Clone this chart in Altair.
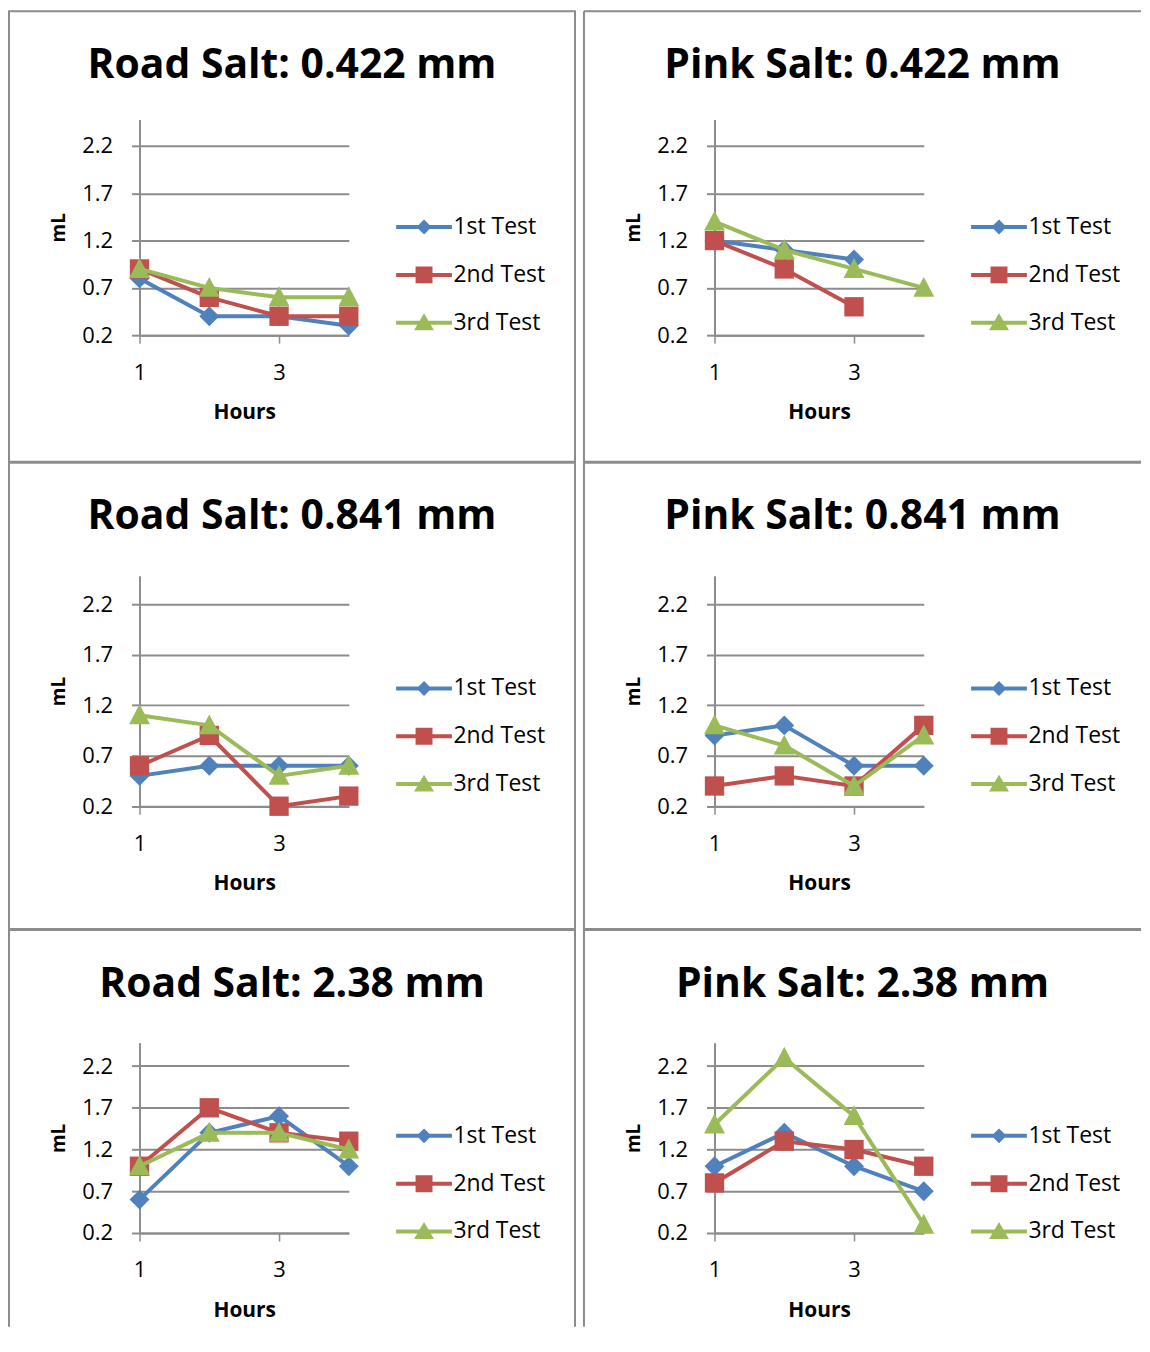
import altair as alt
import pandas as pd

hours = [1, 2, 3, 4]
series = ["1st Test", "2nd Test", "3rd Test"]
colors = ["#4F81BD", "#C0504D", "#9BBB59"]

titles = [
    "Road Salt: 0.422 mm", "Pink Salt: 0.422 mm",
    "Road Salt: 0.841 mm", "Pink Salt: 0.841 mm",
    "Road Salt: 2.38 mm", "Pink Salt: 2.38 mm",
]

road_0422_t1 = [0.8, 0.4, 0.4, 0.3]
road_0422_t2 = [0.9, 0.6, 0.4, 0.4]
road_0422_t3 = [0.9, 0.7, 0.6, 0.6]

pink_0422_t1 = [1.2, 1.1, 1.0, None]
pink_0422_t2 = [1.2, 0.9, 0.5, None]
pink_0422_t3 = [1.4, 1.1, 0.9, 0.7]

road_0841_t1 = [0.5, 0.6, 0.6, 0.6]
road_0841_t2 = [0.6, 0.9, 0.2, 0.3]
road_0841_t3 = [1.1, 1.0, 0.5, 0.6]

pink_0841_t1 = [0.9, 1.0, 0.6, 0.6]
pink_0841_t2 = [0.4, 0.5, 0.4, 1.0]
pink_0841_t3 = [1.0, 0.8, 0.4, 0.9]

road_238_t1 = [0.6, 1.4, 1.6, 1.0]
road_238_t2 = [1.0, 1.7, 1.4, 1.3]
road_238_t3 = [1.0, 1.4, 1.4, 1.2]

pink_238_t1 = [1.0, 1.4, 1.0, 0.7]
pink_238_t2 = [0.8, 1.3, 1.2, 1.0]
pink_238_t3 = [1.5, 2.3, 1.6, 0.3]

panel_values = [
    [road_0422_t1, road_0422_t2, road_0422_t3],
    [pink_0422_t1, pink_0422_t2, pink_0422_t3],
    [road_0841_t1, road_0841_t2, road_0841_t3],
    [pink_0841_t1, pink_0841_t2, pink_0841_t3],
    [road_238_t1, road_238_t2, road_238_t3],
    [pink_238_t1, pink_238_t2, pink_238_t3],
]

y_ticks = [0.2, 0.7, 1.2, 1.7, 2.2]
x_ticks = [1, 3]

# marker shapes (custom paths) for plot and for legend (line + marker)
plot_paths = [
    "M0,-1 L1,0 L0,1 L-1,0 Z",
    "M-0.97,-0.97 H0.97 V0.97 H-0.97 Z",
    "M0,-1.1 L1.05,0.9 L-1.05,0.9 Z",
]
legend_paths = [
    "M-2.8,-0.2 H2.8 V0.2 H-2.8 Z M0,-0.75 L0.75,0 L0,0.75 L-0.75,0 Z",
    "M-2.8,-0.2 H2.8 V0.2 H-2.8 Z M-0.85,-0.85 H0.85 V0.85 H-0.85 Z",
    "M-2.8,-0.2 H2.8 V0.2 H-2.8 Z M0,-0.95 L1.0,0.75 L-1.0,0.75 Z",
]

# layout per row / column
col_widths = [568, 559]
row_heights = [452, 468, 398]
y_pix = [(325, 108.5), (344.7, 113.5), (304, 113)]
legend_y = [205, 215, 195]
title_offset = [-108, -108, -108]
x_pix = (131, 341)

GRID = "#8c8c8c"
FONT = "Open Sans"


def border_dash(r, c):
    w, h = col_widths[c], row_heights[r]
    if r < 2 and c == 0:
        return None
    if r < 2 and c == 1:
        return [w, h, w + h, 0]          # no right edge
    if c == 0:
        return [w + h, w, h, 0]          # no bottom edge
    return [w, w + h, h, 0]              # no right, no bottom edge


def make_cell(i):
    r, c = i // 2, i % 2
    rows = []
    for s, vals in zip(series, panel_values[i]):
        for h, v in zip(hours, vals):
            rows.append({"hour": h, "ml": v, "series": s})
    df = pd.DataFrame(rows)
    H = row_heights[r]
    yb, yt = y_pix[r]

    X = alt.X(
        "hour:Q",
        scale=alt.Scale(domain=[1, 4], range=list(x_pix), nice=False, zero=False),
        axis=alt.Axis(
            values=x_ticks, format="d", offset=yb - H, grid=False, labelFlush=False,
            domainColor=GRID, domainWidth=2, tickColor=GRID, tickWidth=1.5, tickSize=8,
            labelFont=FONT, labelFontSize=22, labelColor="black", labelPadding=19,
            title="Hours", titleFont=FONT, titleFontSize=21, titleFontWeight="bold",
            titleColor="black", titlePadding=19,
        ),
    )
    Y = alt.Y(
        "ml:Q",
        scale=alt.Scale(domain=[0.2, 2.48], range=[yb, yt], nice=False, zero=False),
        axis=alt.Axis(
            values=y_ticks, format=".1f", offset=-x_pix[0], grid=True, labelFlush=False,
            gridColor=GRID, gridWidth=2, domainColor=GRID, domainWidth=2,
            tickColor=GRID, tickWidth=2, tickSize=8,
            labelFont=FONT, labelFontSize=22, labelColor="black", labelPadding=19,
            title="mL", titleFont=FONT, titleFontSize=19, titleFontWeight="bold",
            titleColor="black", titlePadding=13,
        ),
    )

    base = alt.Chart(df).encode(x=X, y=Y)
    layers = []
    for s, col, p in zip(series, colors, plot_paths):
        sub = base.transform_filter(alt.datum.series == s)
        layers.append(sub.mark_line(color=col, strokeWidth=4, strokeJoin="round", strokeCap="round"))
        layers.append(sub.mark_point(filled=True, color=col, shape=p, size=400, opacity=1, strokeWidth=0))

    leg = alt.Legend(
        orient="none", legendX=405, legendY=legend_y[r], title=None,
        labelFont=FONT, labelFontSize=23, labelColor="black", labelOffset=18,
        rowPadding=24, symbolOpacity=1, symbolStrokeWidth=0, symbolSize=400,
    )
    legend_layer = base.transform_filter("false").mark_point(
        filled=True, size=400, opacity=1, strokeWidth=0
    ).encode(
        color=alt.Color("series:N", scale=alt.Scale(domain=series, range=colors), legend=leg),
        shape=alt.Shape("series:N", scale=alt.Scale(domain=series, range=legend_paths), legend=leg),
    )
    layers.append(legend_layer)

    dash = border_dash(r, c)
    view = alt.ViewBackground(strokeDash=dash) if dash else alt.ViewBackground()

    return alt.layer(*layers).properties(
        width=col_widths[c],
        height=H,
        view=view,
        title=alt.TitleParams(
            titles[i], font=FONT, fontSize=41, fontWeight="bold", color="black",
            anchor="middle", frame="group", offset=title_offset[r], baseline="alphabetic",
        ),
    )


row_charts = []
for r in range(3):
    row_charts.append(
        alt.hconcat(make_cell(2 * r), make_cell(2 * r + 1), spacing=7)
        .resolve_scale(color="independent", shape="independent")
    )

chart = (
    alt.vconcat(*row_charts, spacing=-4)
    .resolve_scale(color="independent", shape="independent")
    .properties(padding=0, background="white")
    .configure_view(stroke="#8c8c8c", strokeWidth=2)
)

chart.save("out.html", embed_options={"renderer": "svg", "actions": False})
